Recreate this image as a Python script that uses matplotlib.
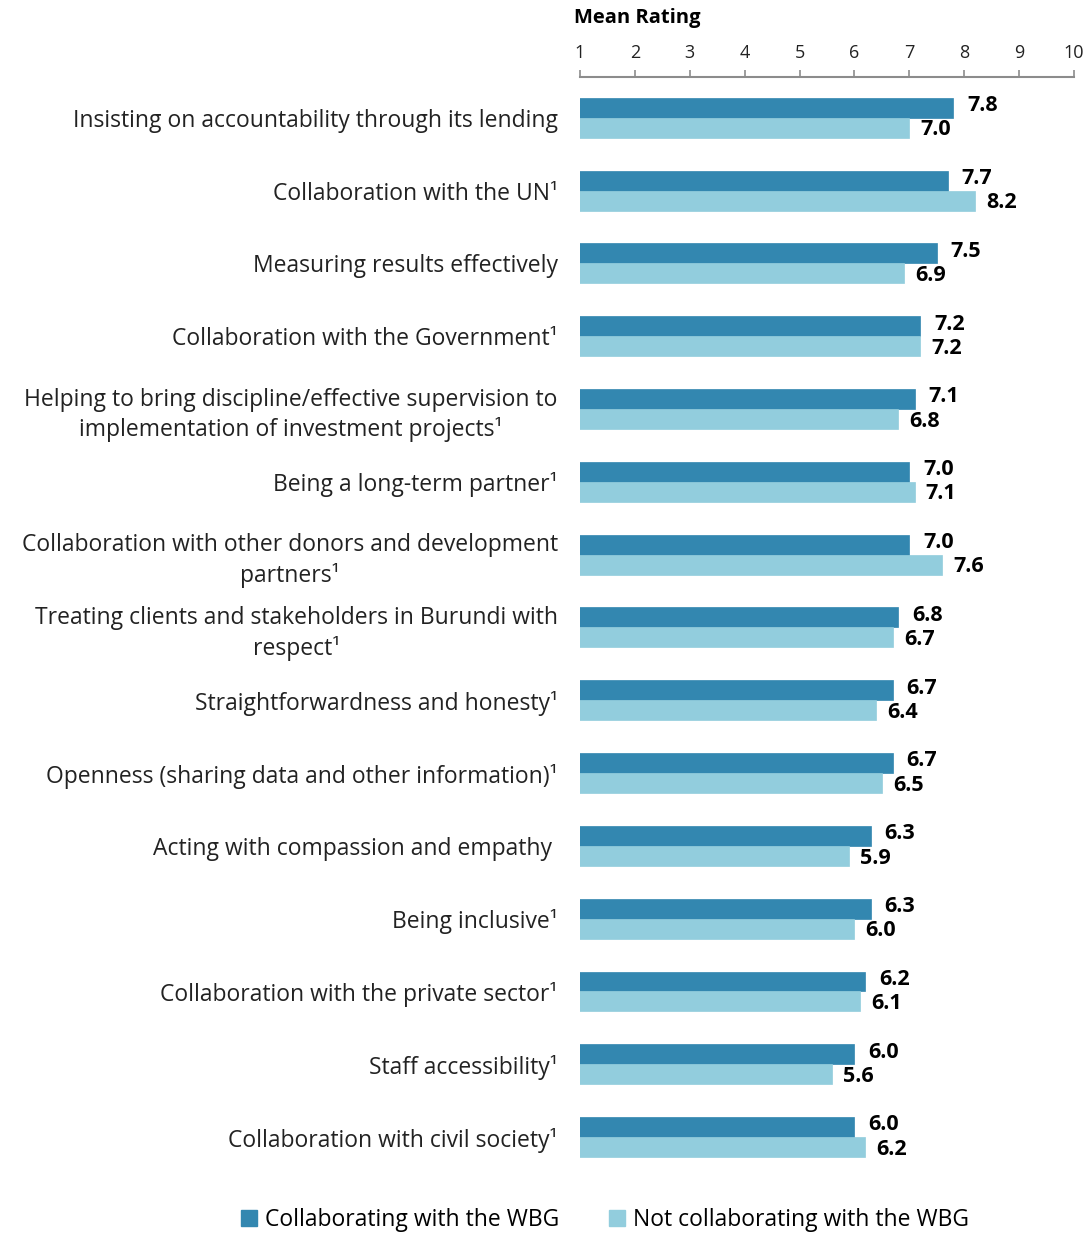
import numpy as np
import matplotlib.pyplot as plt

categories = [
    "Insisting on accountability through its lending",
    "Collaboration with the UN\u00b9",
    "Measuring results effectively",
    "Collaboration with the Government\u00b9",
    "Helping to bring discipline/effective supervision to\nimplementation of investment projects\u00b9",
    "Being a long-term partner\u00b9",
    "Collaboration with other donors and development\npartners\u00b9",
    "Treating clients and stakeholders in Burundi with\nrespect\u00b9",
    "Straightforwardness and honesty\u00b9",
    "Openness (sharing data and other information)\u00b9",
    "Acting with compassion and empathy ",
    "Being inclusive\u00b9",
    "Collaboration with the private sector\u00b9",
    "Staff accessibility\u00b9",
    "Collaboration with civil society\u00b9",
]
collab = [7.8, 7.7, 7.5, 7.2, 7.1, 7.0, 7.0, 6.8, 6.7, 6.7, 6.3, 6.3, 6.2, 6.0, 6.0]
not_collab = [7.0, 8.2, 6.9, 7.2, 6.8, 7.1, 7.6, 6.7, 6.4, 6.5, 5.9, 6.0, 6.1, 5.6, 6.2]
series_names = ["Collaborating with the WBG", "Not collaborating with the WBG"]

DARK = "#3387b0"
LIGHT = "#92cddd"
plt.rcParams['font.family'] = ['Open Sans', 'DejaVu Sans']

fig = plt.figure(figsize=(10.88, 12.34), dpi=100)
ax = fig.add_axes([580 / 1088, 1 - 1173.5 / 1234, 494 / 1088, 1096.5 / 1234])

y = np.arange(len(categories))
h = 0.274
ax.barh(y - h / 2, collab, height=h, left=0, color=DARK, edgecolor=DARK, linewidth=0.5)
ax.barh(y + h / 2, not_collab, height=h, left=0, color=LIGHT, edgecolor=LIGHT, linewidth=0.5)

# value labels at bar ends (nudged apart a little so they don't collide)
for i in range(len(categories)):
    ax.text(collab[i] + 0.25, y[i] - h / 2 - 0.03, f"{collab[i]:.1f}", va='center', ha='left',
            fontsize=15.5, fontweight='bold', color='black')
    ax.text(not_collab[i] + 0.2, y[i] + h / 2 + 0.03, f"{not_collab[i]:.1f}", va='center', ha='left',
            fontsize=15.5, fontweight='bold', color='black')

ax.set_xlim(1, 10)
ax.set_ylim(14.5, -0.56)
ax.set_xticks(range(1, 11))
ax.xaxis.tick_top()
ax.tick_params(axis='x', direction='out', length=5, width=1.2, color='#8c8c8c',
               labelsize=13, labelcolor='#222222', pad=6)
ax.set_yticks(y)
ax.set_yticklabels(categories, fontsize=16.5, color='#222222', multialignment='center',
                   linespacing=1.3)
ax.tick_params(axis='y', length=0, pad=16)
for s in ['right', 'bottom', 'left']:
    ax.spines[s].set_visible(False)
ax.spines['top'].set_color('#8c8c8c')
ax.spines['top'].set_linewidth(1.5)

fig.text(574 / 1088, 1 - 18 / 1234, "Mean Rating", fontsize=14.5, fontweight='bold',
         ha='left', va='center')

handles = [plt.Rectangle((0, 0), 1, 1, color=DARK), plt.Rectangle((0, 0), 1, 1, color=LIGHT)]
fig.legend(handles, series_names, loc='center', bbox_to_anchor=(605 / 1088, 1 - 1220 / 1234),
           ncol=2, frameon=False, fontsize=16.5, handlelength=0.7, handleheight=0.7,
           handletextpad=0.35, columnspacing=2.2)

fig.savefig("out.png", dpi=100)
